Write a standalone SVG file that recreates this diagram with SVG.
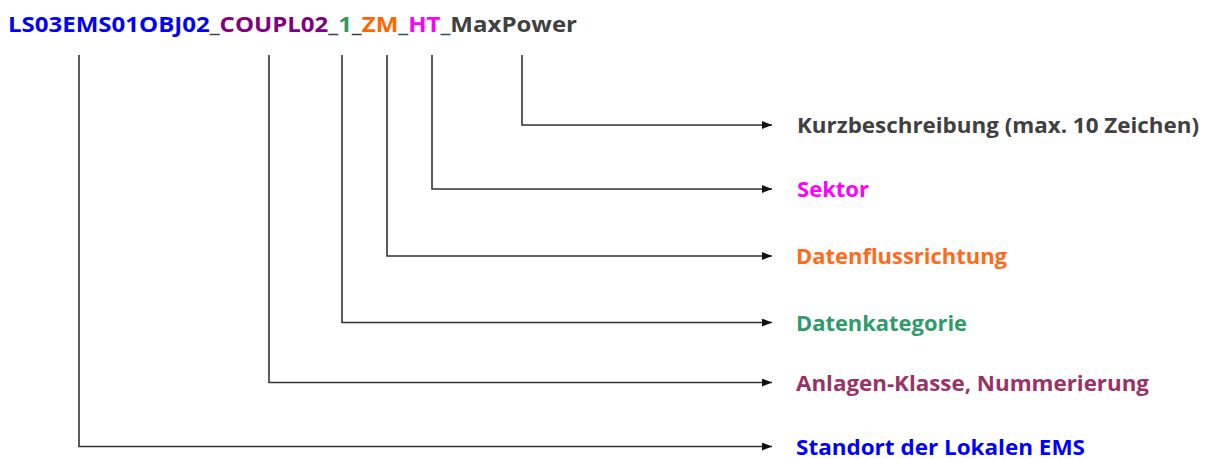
<svg xmlns="http://www.w3.org/2000/svg" width="1209" height="459" viewBox="0 0 1209 459">
  <style>
    .t { font-family: "Open Sans", "Liberation Sans", sans-serif; font-weight: bold; }
    .title { font-size: 22px; }
    .lbl { font-size: 22px; }
    .sep { fill: #404040; }
    .sep2 { fill: #1F4E79; }
    .wire { fill: none; stroke: #333333; stroke-width: 1.6; marker-end: url(#arrow); }
  </style>
  <defs>
    <marker id="arrow" markerUnits="userSpaceOnUse" markerWidth="10" markerHeight="8" refX="10" refY="4" orient="auto">
      <path d="M0 0 L10 4 L0 8 Z" fill="#111111"/>
    </marker>
  </defs>

  <!-- identifier string -->
  <g id="identifier">
    <text class="t title" x="8" y="32" textLength="569" lengthAdjust="spacingAndGlyphs"><tspan fill="#0000FF">LS03EMS01OBJ02</tspan><tspan class="sep">_</tspan><tspan fill="#800080">COUPL02</tspan><tspan class="sep">_</tspan><tspan fill="#339966">1</tspan><tspan class="sep">_</tspan><tspan fill="#FF6600">ZM</tspan><tspan class="sep2">_</tspan><tspan fill="#FF00FF">HT</tspan><tspan class="sep2">_</tspan><tspan fill="#404040">MaxPower</tspan></text>
  </g>

  <!-- connectors from each segment to its description -->
  <g id="connectors">
    <path class="wire" d="M522 55 V125 H772"/>
    <path class="wire" d="M432 55 V189 H772"/>
    <path class="wire" d="M387 55 V256 H772"/>
    <path class="wire" d="M342 55 V322.5 H772"/>
    <path class="wire" d="M269 55 V382.5 H772"/>
    <path class="wire" d="M79 55 V446.5 H772"/>
  </g>

  <!-- descriptions -->
  <g id="kurzbeschreibung">
    <text class="t lbl" x="797" y="133" fill="#404040" textLength="402" lengthAdjust="spacingAndGlyphs">Kurzbeschreibung (max. 10 Zeichen)</text>
  </g>
  <g id="sektor">
    <text class="t lbl" x="797" y="197" fill="#FF00FF" textLength="72" lengthAdjust="spacingAndGlyphs">Sektor</text>
  </g>
  <g id="datenflussrichtung">
    <text class="t lbl" x="796" y="264" fill="#FF6A1A" textLength="211" lengthAdjust="spacingAndGlyphs">Datenflussrichtung</text>
  </g>
  <g id="datenkategorie">
    <text class="t lbl" x="796" y="330.5" fill="#2E9B6B" textLength="171" lengthAdjust="spacingAndGlyphs">Datenkategorie</text>
  </g>
  <g id="anlagen-klasse">
    <text class="t lbl" x="796" y="390.5" fill="#993366" textLength="353" lengthAdjust="spacingAndGlyphs">Anlagen-Klasse, Nummerierung</text>
  </g>
  <g id="standort">
    <text class="t lbl" x="796" y="454.5" fill="#0000FF" textLength="289" lengthAdjust="spacingAndGlyphs">Standort der Lokalen EMS</text>
  </g>
</svg>
